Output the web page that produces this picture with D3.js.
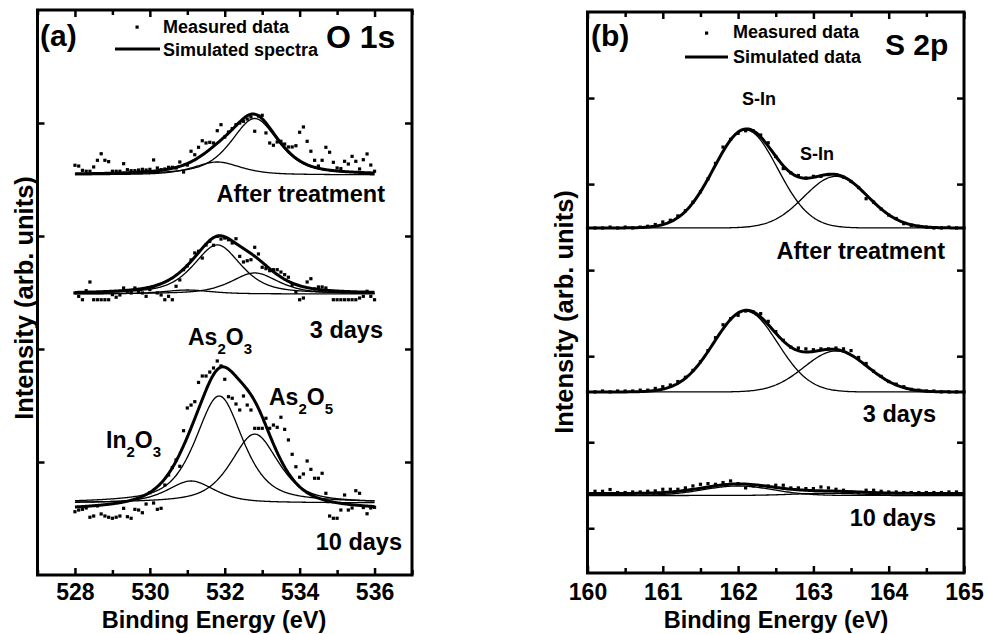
<!DOCTYPE html>
<html>
<head>
<meta charset="utf-8">
<script src="https://cdn.jsdelivr.net/npm/d3@7"></script>
<style>
  body { margin: 0; background: #fff; }
  svg { display: block; background: #fff; }
  text { font-family: "Liberation Sans", Arial, sans-serif; font-weight: bold; fill: #000; }
</style>
</head>
<body>
<svg id="chart" width="989" height="634"></svg>
<script>
// ---------------- DATA ----------------
// Panel (a) O 1s : measured points every 0.1 eV from 528.0 to 536.0
const energyStartA = 528.0, energyStepA = 0.1;
const measuredA_after = [3.626,3.619,3.581,3.573,3.573,3.611,3.670,3.728,3.670,3.658,
 3.573,3.573,3.573,3.640,3.587,3.578,3.578,3.584,3.590,3.584,
 3.590,3.673,3.602,3.587,3.593,3.608,3.608,3.602,3.655,3.566,
 3.628,3.750,3.719,3.785,3.843,3.823,3.829,3.823,3.932,3.985,
 3.876,3.920,3.950,3.985,4.000,4.015,4.035,4.053,3.927,4.062,
 4.068,3.912,3.823,3.803,3.832,3.838,3.814,3.788,3.788,3.799,
 3.918,3.965,3.838,3.750,3.670,3.619,3.670,3.785,3.741,3.652,
 3.602,3.596,3.661,3.637,3.705,3.661,3.593,3.675,3.726,3.628,3.573];
const measuredA_3days = [2.496,2.466,2.436,2.516,2.593,2.436,2.436,2.436,2.436,2.436,
 2.481,2.458,2.478,2.540,2.511,2.496,2.540,2.511,2.496,2.466,
 2.525,2.549,2.496,2.478,2.436,2.466,2.436,2.555,2.611,2.702,
 2.735,2.788,2.850,2.865,2.805,2.920,2.953,2.918,2.997,2.973,
 2.982,2.967,2.938,2.976,2.820,2.770,2.781,2.790,2.900,2.841,
 2.723,2.711,2.693,2.702,2.702,2.681,2.658,2.635,2.566,2.504,
 2.436,2.451,2.593,2.622,2.531,2.549,2.549,2.540,2.511,2.436,
 2.436,2.436,2.436,2.436,2.436,2.436,2.451,2.466,2.511,2.466,2.436];
const measuredA_10days = [0.560,0.575,0.581,0.593,0.511,0.522,0.611,0.540,0.522,0.511,
 0.502,0.511,0.522,0.590,0.516,0.502,0.581,0.575,0.551,0.628,
 0.728,0.637,0.581,0.590,0.796,0.885,0.951,1.018,0.962,1.277,
 1.478,1.504,1.534,1.704,1.761,1.761,1.796,1.832,1.894,1.850,
 1.732,1.578,1.564,1.513,1.460,1.584,1.504,1.460,1.298,1.298,
 1.298,1.387,1.298,1.327,1.307,1.396,1.289,1.195,1.068,0.958,
 0.865,0.894,1.009,0.935,0.856,0.856,0.900,0.723,0.522,0.502,
 0.502,0.575,0.708,0.575,0.593,0.746,0.723,0.597,0.542,0.593,0.599];

// Panel (a) fitted components (centre eV, height), common width
const baseA = [3.540, 2.487, 0.637];        // component baselines: after, 3 days, 10 days
const fitBaseA = [3.540, 2.487, 0.566];     // envelope baselines
const centersA_after = [531.8, 532.8];
const heightsA_after = [0.115, 0.50];
const centersA_3days = [531.0, 531.8, 532.8];
const heightsA_3days = [0.035, 0.434, 0.186];
const centersA_10days = [531.1, 531.85, 532.8];
const heightsA_10days = [0.195, 0.947, 0.61];
const hwhmA = 0.75, lorentzFracA = 0.6;

// Panel (b) S 2p : measured points every 0.1 eV
const energyStartB = 160.0, energyStepB = 0.1;
const measuredB_after = [3.49,3.49,3.49,3.50,3.49,3.50,3.49,3.50,3.51,3.53,
 3.56,3.58,3.63,3.69,3.79,3.91,4.06,4.24,4.43,4.52,
 4.59,4.62,4.62,4.57,4.48,4.32,4.18,4.13,4.10,4.07,
 4.09,4.09,4.11,4.11,4.08,4.03,3.96,3.83,3.79,3.71,
 3.64,3.60,3.54,3.52,3.51,3.50,3.49,3.49,3.50,3.49,3.49];
const measuredB_3days = [1.585,1.585,1.595,1.585,1.595,1.595,1.595,1.605,1.605,1.625,
 1.645,1.665,1.705,1.755,1.835,1.935,2.065,2.215,2.365,2.435,
 2.475,2.525,2.515,2.495,2.405,2.285,2.185,2.105,2.095,2.085,
 2.075,2.085,2.085,2.095,2.085,2.065,1.985,1.915,1.825,1.765,
 1.705,1.675,1.645,1.615,1.605,1.595,1.595,1.585,1.585,1.585,1.585];
const energyStartB10 = 160.1;
const measuredB_10days = [0.430,0.430,0.450,0.415,0.415,0.422,0.422,0.430,0.434,0.453,
 0.453,0.453,0.469,0.492,0.511,0.519,0.511,0.531,0.550,0.519,
 0.469,0.492,0.492,0.492,0.500,0.500,0.469,0.469,0.461,0.461,
 0.480,0.469,0.453,0.442,0.422,0.415,0.442,0.442,0.430,0.422,
 0.422,0.415,0.415,0.415,0.415,0.415,0.415,0.422,0.422];

const baseB = [3.490, 1.584, 0.381];
const fitBaseB = [3.490, 1.584, 0.404];
const centersB_after = [162.1, 163.3];
const heightsB_after = [1.14, 0.60];
const centersB_3days = [162.1, 163.3];
const heightsB_3days = [0.94, 0.476];
const centersB_10days = [162.0, 163.2];
const heightsB_10days = [0.11, 0.025];
const hwhmB = [0.5, 0.5, 0.55];

// Axis ticks
const ticksA_major = [528, 530, 532, 534, 536];
const ticksA_minor = [527, 529, 531, 533, 535, 537];
const ticksA_y = [1, 2, 3, 4];
const ticksB_major = [160, 161, 162, 163, 164, 165];
const ticksB_minor = [160.5, 161.5, 162.5, 163.5, 164.5];
const ticksB_y = [0, 1, 2, 3, 4, 5];

// ---------------- DRAW ----------------
const svg = d3.select("#chart");
const FONT = '"Liberation Sans", Arial, sans-serif';

function pv(E, c, h, w, eta) {
  const d = (E - c) / w;
  return h * (eta / (1 + d * d) + (1 - eta) * Math.exp(-Math.LN2 * d * d));
}

function drawFrame(x, y, xd, yd, majors, minors, yt, labelBaseline) {
  const g = svg.append("g");
  const x0 = x(xd[0]), x1 = x(xd[1]), y0 = y(yd[0]), y1 = y(yd[1]);
  const styleTicks = sel => {
    sel.select(".domain").remove();
    sel.selectAll(".tick line").attr("stroke", "#000").attr("stroke-width", 2.5);
  };
  const pad = labelBaseline - y0 - 0.71 * 23;
  g.append("g").attr("transform", `translate(0,${y0})`)
    .call(d3.axisBottom(x).tickValues(majors).tickSize(-7).tickPadding(pad).tickFormat(d3.format("d")))
    .call(styleTicks)
    .attr("font-family", FONT).attr("font-size", 23).attr("font-weight", "bold");
  g.append("g").attr("transform", `translate(0,${y0})`)
    .call(d3.axisBottom(x).tickValues(minors).tickSize(-5).tickFormat(""))
    .call(styleTicks);
  g.append("g").attr("transform", `translate(0,${y1})`)
    .call(d3.axisTop(x).tickValues(majors).tickSize(-7).tickFormat(""))
    .call(styleTicks);
  g.append("g").attr("transform", `translate(0,${y1})`)
    .call(d3.axisTop(x).tickValues(minors).tickSize(-5).tickFormat(""))
    .call(styleTicks);
  g.append("g").attr("transform", `translate(${x0},0)`)
    .call(d3.axisLeft(y).tickValues(yt).tickSize(-7).tickFormat(""))
    .call(styleTicks);
  g.append("g").attr("transform", `translate(${x1},0)`)
    .call(d3.axisRight(y).tickValues(yt).tickSize(-7).tickFormat(""))
    .call(styleTicks);
  g.append("rect").attr("x", x0).attr("y", y1).attr("width", x1 - x0).attr("height", y0 - y1)
    .attr("fill", "none").attr("stroke", "#000").attr("stroke-width", 3);
}

function drawSpectrum(x, y, eStart, eStep, values, fitE0, fitE1, centers, heights, w, eta, base, fitBase) {
  const grid = d3.range(fitE0, fitE1 + 1e-9, 0.02);
  const line = d3.line().x(d => x(d[0])).y(d => y(d[1]));
  centers.forEach((c, i) => {
    const pts = grid.map(E => [E, base + pv(E, c, heights[i], w, eta)]);
    svg.append("path").attr("d", line(pts)).attr("fill", "none")
      .attr("stroke", "#000").attr("stroke-width", 1.3);
  });
  const env = grid.map(E => [E, fitBase + d3.sum(centers, (c, i) => pv(E, c, heights[i], w, eta))]);
  svg.append("path").attr("d", line(env)).attr("fill", "none")
    .attr("stroke", "#000").attr("stroke-width", 3).attr("stroke-linejoin", "round");
  svg.append("g").selectAll("rect").data(values).join("rect")
    .attr("x", (v, i) => x(eStart + i * eStep) - 1.6)
    .attr("y", v => y(v) - 1.6)
    .attr("width", 3.2).attr("height", 3.2).attr("fill", "#000");
}

function addText(x, y, str, size, anchor) {
  return svg.append("text").attr("x", x).attr("y", y).attr("font-size", size)
    .attr("text-anchor", anchor || "start").text(str);
}

function addChem(x, y, parts) {
  const t = svg.append("text").attr("x", x).attr("y", y).attr("font-size", 23);
  let shift = 0;
  parts.forEach(p => {
    const sub = /^[0-9]$/.test(p);
    const dy = sub ? 9 - shift : -shift;
    t.append("tspan").attr("dy", dy).attr("font-size", sub ? 15 : 23).text(p);
    shift = sub ? 9 : 0;
  });
}

// ----- Panel (a)
const xA = d3.scaleLinear().domain([527, 537]).range([37.5, 412]);
const yA = d3.scaleLinear().domain([0, 5]).range([575, 10]);
drawFrame(xA, yA, [527, 537], [0, 5], ticksA_major, ticksA_minor, ticksA_y, 600);

drawSpectrum(xA, yA, energyStartA, energyStepA, measuredA_after, 528, 536,
  centersA_after, heightsA_after, hwhmA, lorentzFracA, baseA[0], fitBaseA[0]);
drawSpectrum(xA, yA, energyStartA, energyStepA, measuredA_3days, 528, 536,
  centersA_3days, heightsA_3days, hwhmA, lorentzFracA, baseA[1], fitBaseA[1]);
drawSpectrum(xA, yA, energyStartA, energyStepA, measuredA_10days, 528, 536,
  centersA_10days, heightsA_10days, hwhmA, lorentzFracA, baseA[2], fitBaseA[2]);

addText(40, 46, "(a)", 30);
addText(326, 48, "O 1s", 32);
svg.append("rect").attr("x", 135.5).attr("y", 25.5).attr("width", 3.2).attr("height", 3.2).attr("fill", "#000");
addText(163, 33, "Measured data", 18);
svg.append("line").attr("x1", 115).attr("x2", 160).attr("y1", 49).attr("y2", 49)
  .attr("stroke", "#000").attr("stroke-width", 3);
addText(163, 56, "Simulated spectra", 18);
addText(385, 202, "After treatment", 23.5, "end");
addText(383, 338, "3 days", 23.5, "end");
addText(402, 550, "10 days", 23.5, "end");
addChem(188, 345, ["As", "2", "O", "3"]);
addChem(269, 405, ["As", "2", "O", "5"]);
addChem(106, 448, ["In", "2", "O", "3"]);
addText(214, 627.5, "Binding Energy (eV)", 23.5, "middle");
svg.append("text").attr("transform", "translate(33,298) rotate(-90)")
  .attr("font-size", 25.5).attr("text-anchor", "middle").text("Intensity (arb. units)");

// ----- Panel (b)
const xB = d3.scaleLinear().domain([160, 165]).range([587.5, 964]);
const yB = d3.scaleLinear().domain([-0.52, 6]).range([573, 12]);
drawFrame(xB, yB, [160, 165], [-0.52, 6], ticksB_major, ticksB_minor, ticksB_y, 600);

drawSpectrum(xB, yB, energyStartB, energyStepB, measuredB_after, 160, 165,
  centersB_after, heightsB_after, hwhmB[0], 0, baseB[0], fitBaseB[0]);
drawSpectrum(xB, yB, energyStartB, energyStepB, measuredB_3days, 160, 165,
  centersB_3days, heightsB_3days, hwhmB[1], 0, baseB[1], fitBaseB[1]);
drawSpectrum(xB, yB, energyStartB10, energyStepB, measuredB_10days, 160, 165,
  centersB_10days, heightsB_10days, hwhmB[2], 0, baseB[2], fitBaseB[2]);

addText(591, 46, "(b)", 30);
addText(885, 55, "S 2p", 30);
svg.append("rect").attr("x", 705).attr("y", 31.5).attr("width", 3.2).attr("height", 3.2).attr("fill", "#000");
addText(733, 38, "Measured data", 18);
svg.append("line").attr("x1", 685).attr("x2", 728).attr("y1", 57).attr("y2", 57)
  .attr("stroke", "#000").attr("stroke-width", 3);
addText(733, 63, "Simulated data", 18);
addText(742, 105, "S-In", 18);
addText(800, 160, "S-In", 18);
addText(945, 259, "After treatment", 23.5, "end");
addText(936, 422, "3 days", 23.5, "end");
addText(936, 526, "10 days", 23.5, "end");
addText(776, 627.5, "Binding Energy (eV)", 23.5, "middle");
svg.append("text").attr("transform", "translate(573,312) rotate(-90)")
  .attr("font-size", 25.5).attr("text-anchor", "middle").text("Intensity (arb. units)");
</script>
</body>
</html>
